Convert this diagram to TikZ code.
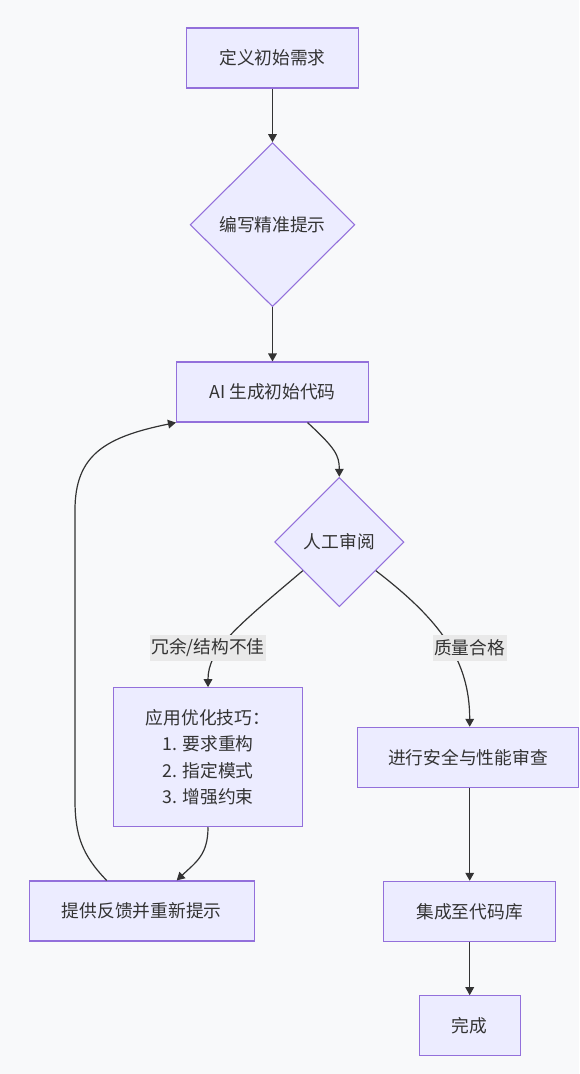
\documentclass[tikz,border=0pt]{standalone}
\usepackage{fontspec}
\setmainfont{Noto Sans CJK SC}
\usetikzlibrary{arrows.meta,shapes.geometric,calc}
\definecolor{bgc}{HTML}{F8F9FA}
\definecolor{nodefill}{HTML}{ECECFF}
\definecolor{nodeline}{HTML}{9370DB}
\definecolor{edgec}{HTML}{333333}
\definecolor{txt}{HTML}{333333}
\definecolor{lblbg}{HTML}{E9E9E9}
\begin{document}
\begin{tikzpicture}[x=0.75pt,y=-0.75pt,
  base/.style={draw=nodeline,fill=nodefill,line width=0.8pt,text=txt,inner sep=0pt,
    font=\fontsize{13.3pt}{16pt}\selectfont},
  box/.style={base,rectangle,minimum height=45pt},
  dia/.style={base,diamond,aspect=1},
  edge/.style={draw=edgec,line width=0.9pt,-{Triangle[length=6pt,width=6.5pt]}},
  lbl/.style={fill=lblbg,text=txt,inner xsep=1pt,inner ysep=0pt,minimum height=19.3pt,
    font=\fontsize{13.3pt}{16pt}\selectfont}]
\fill[bgc] (0,0) rectangle (579,1074);
\useasboundingbox (0,0) rectangle (579,1074);

\node[box,minimum width=129pt] (n1) at (272.5,58) {定义初始需求};
\node[dia,minimum width=123.5pt,minimum height=123pt] (n2) at (272.5,224.7) {编写精准提示};
\node[box,minimum width=144pt] (n3) at (272.5,392) {AI 生成初始代码};
\node[dia,minimum width=97pt,minimum height=97pt] (n4) at (339.3,542) {人工审阅};
\node[box,minimum width=142pt,minimum height=104.25pt,align=center,
  font=\fontsize{13.3pt}{19.9pt}\selectfont] (n5) at (208,757.2)
  {应用优化技巧：\\1. 要求重构\\2. 指定模式\\3. 增强约束};
\node[box,minimum width=166pt] (n6) at (468,757.3) {进行安全与性能审查};
\node[box,minimum width=168.5pt] (n7) at (141.7,911) {提供反馈并重新提示};
\node[box,minimum width=129pt] (n8) at (469.7,911.3) {集成至代码库};
\node[box,minimum width=76pt,minimum height=44.7pt] (n9) at (469.7,1025.5) {完成};

\draw[edge] (n1.south) -- (n2.north);
\draw[edge] (n2.south) -- (n3.north);
\draw[edge] ($(n3.south)+(35,0)$) .. controls (335,448) and (339.3,455) .. (n4.north);
\draw[edge] ($(n4.west)!0.44!(n4.south)$) .. controls (235,628) and (208,650) .. (n5.north);
\draw[edge] ($(n4.east)!0.44!(n4.south)$) .. controls (440,620) and (469.7,660) .. (n6.north -| n8.north);
\draw[edge] (n5.south) .. controls (208,855) and (196,862) .. ($(n7.north)+(35,0)$);
\draw[edge] ($(n7.north)+(-35,0)$) .. controls (82,855) and (75,835) .. (75,800)
  -- (75,510) .. controls (75,455) and (105,437) .. (n3.south west);
\draw[edge] (n6.south -| n8.north) -- (n8.north);
\draw[edge] (n8.south) -- (n9.north);

\node[lbl] (l1) at (208,648) {冗余/结构不佳};
\node[lbl] (l2) at (469.7,648) {质量合格};
\end{tikzpicture}
\end{document}
